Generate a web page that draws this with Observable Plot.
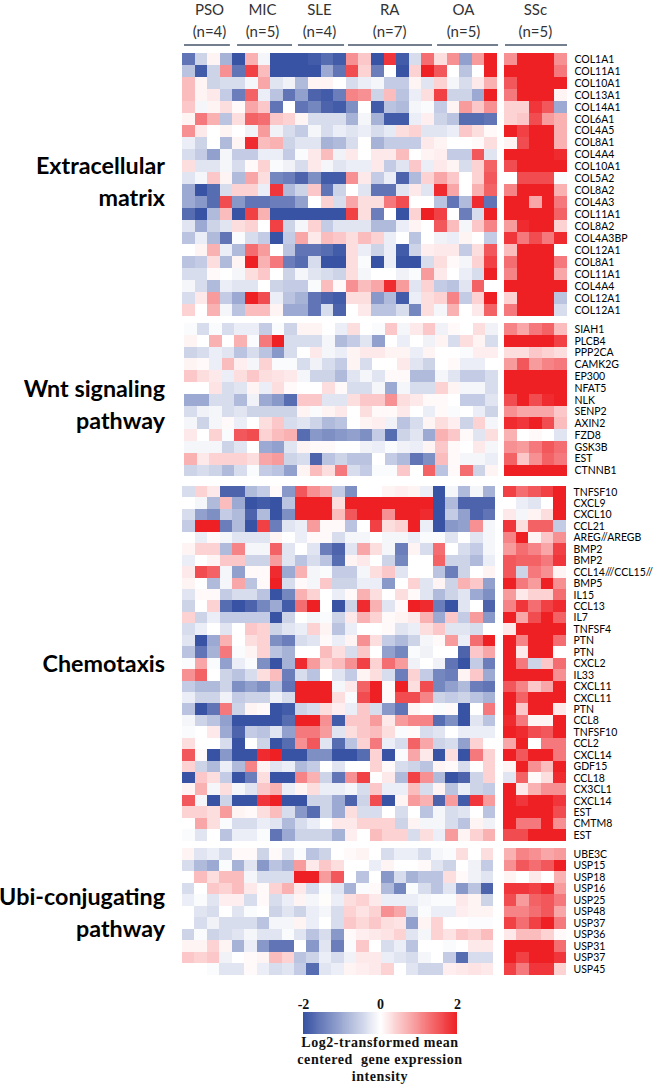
<!DOCTYPE html>
<html>
<head>
<meta charset="utf-8">
<script src="https://cdn.jsdelivr.net/npm/d3@7"></script>
<script src="https://cdn.jsdelivr.net/npm/@observablehq/plot@0.6"></script>
<style>
html,body{margin:0;padding:0;background:#fff;}
#page{position:relative;width:662px;height:1086px;overflow:hidden;font-family:Lato,sans-serif;}
#page svg{position:absolute;background:transparent;}
.section{position:absolute;font-weight:700;font-size:23.3px;line-height:32px;color:#000;text-align:right;white-space:pre;}
#cap{position:absolute;left:280px;width:200px;top:1034px;text-align:center;font-family:"Liberation Serif",serif;font-weight:700;font-size:14px;line-height:17px;letter-spacing:.55px;color:#111;}
</style>
</head>
<body>
<div id="page"></div>
<script>
const groupNames = ["PSO\n(n=4)","MIC\n(n=5)","SLE\n(n=4)","RA\n(n=7)","OA\n(n=5)","SSc\n(n=5)"];
const groupCenter = [2.14,6.35,10.87,16.44,22.3,28.0];
const groupStart = [0.16,4.37,9.2,13.17,20.24,25.63];
const groupEnd = [3.8,8.73,12.86,19.84,25.08,30.55];

const ecmLabels = ["COL1A1","COL11A1","COL10A1","COL13A1","COL14A1","COL6A1","COL4A5","COL8A1","COL4A4","COL10A1","COL5A2","COL8A2","COL4A3","COL11A1","COL8A2","COL4A3BP","COL12A1","COL8A1","COL11A1","COL4A4","COL12A1","COL12A1"];
const ecmValues = [
[-1.6,-.5,.1,-.9,-2,.7,-.1,-2,-2,-2,-1.9,-1.7,-1.9,1,.5,-2,1.8,-1.9,-.4,1.3,.3,1,-1.1,.9,2, 1,2,2,2,1],
[-.7,-1.9,-.5,1,-1.6,1.7,.6,-2,-2,-2,-2,-1,-1.6,1.6,.4,-1.5,0,-2,.4,2,1.5,0,-.7,0,2, 2,2,2,2,1.2],
[.6,.1,-.5,-.4,-.4,-.1,.8,-.3,-.15,-.8,.1,.1,0,-.4,-.2,-.1,-.6,-.6,.1,-.3,.4,-.1,-.4,.2,.7, 1.5,2,2,2,2],
[.6,.1,.2,-.6,-1.5,1.4,-.2,-.7,-1.6,-1.1,-1.8,-1.9,-1.5,1.1,1,-.5,.6,-.7,-.2,.3,1.7,-.5,-.5,-1,2, 1.2,2,2,2,.1],
[.5,-.1,.1,.3,.05,.8,.5,-1.6,0,-1.6,-1.4,-1.8,-1.9,-1.3,0,-1.9,-.7,-.8,-.1,-.05,-.6,.1,.9,.5,1, .4,.4,1.8,1.5,-1],
[.1,1.2,.7,-.7,.3,1.4,1.3,.5,.4,.1,-.4,-.4,-.4,-.9,-.1,-.9,-1.9,-1.9,-.2,.15,-.5,-.7,-1.7,-1.7,-1.6, .4,.5,1.6,.9,.7],
[1,.2,0,.1,0,-.15,.9,-.15,-.4,-.6,-.1,-.4,-.2,-.3,-.2,-.4,-.25,.3,.4,-.3,-.3,-.2,.5,.3,.05, 2,1.7,2,2,.7],
[-.2,-.5,0,-.8,.1,1.9,.6,.7,-.5,-.3,-.3,-.9,-.8,-.4,0,-.9,-.6,-.6,-.6,.2,.1,0,0,.05,.3, .1,1.6,2,2,.7],
[-.4,-.6,-1.1,-.1,-.6,-.6,-.2,-.2,-.6,-.05,.2,.6,-.15,.2,0,.2,.2,.6,0,.1,.15,-.6,-.6,1.5,-.3, 2,2,2,2,1.9],
[.3,-.3,-.3,-.1,-.4,.05,.4,-.05,-.15,-.4,.2,-.1,-.3,-.2,-.2,.2,-.6,-.3,.5,-.2,.2,.1,-.4,.4,1.4, 1.6,2,2,2,2],
[-.3,-.1,.5,.1,-.8,.8,.3,-1.4,-1.5,-1.8,-1.3,-1.9,-1.9,1,.2,-.6,-.2,-1.8,-.8,.4,.8,.5,0,.4,1.5, 0,1.6,1.6,1.6,-.05],
[-1,-2,-1.7,-.4,.4,.4,-.2,1.8,-.8,-.5,.5,-1.6,-.5,0,-.3,-1.6,-1.6,-.3,.2,-.3,1.9,.8,0,.7,1.4, 1.1,2,2,2,.7],
[-1,-1.2,-1.7,1.6,-1.2,-1.6,-1.6,-1.5,-1.5,-1.1,0,.4,-.4,.8,.3,.3,1.2,1.6,0,0,-.7,-1.6,-.8,1.9,-1.6, 2,2,.8,2,1.2],
[-1.7,-2,-.8,.6,-2,1.7,.7,-2,-2,-2,-2,-2,-2,1.7,.3,-1.5,0,-2,.4,2,1.7,0,-1.5,-.4,2, 2,2,2,2,1.4],
[-.3,-1,-.5,-.3,.3,.4,0,1.7,-.5,-.1,.4,-.6,-.3,-.3,-.3,-.8,-.8,-.2,.1,0,1.5,.6,-.1,.5,1.1, .9,1.9,2,2,.4],
[-.7,-.2,-.8,-1.6,-.05,-.4,-.6,-2,-.6,.8,.2,.6,.5,.3,.6,.4,-.2,0,-.7,0,-.15,-.2,.1,0,-.6, 1.8,1.2,1.6,1.2,1.9],
[0,.1,.7,-.2,-.8,1.3,.9,0,-.7,-1.6,-1.6,-1.7,-1.9,.3,-.2,-.5,-.2,-1.9,-.5,.15,.2,.2,-.6,.3,1.5, .6,2,2,2,0],
[-.7,-.6,.3,-.8,.1,2,.7,1.2,-1.5,-1.7,-.4,-2,-2,.3,-.05,-2,-.2,-2,-2,-.4,.3,.05,-.1,.4,1.7, 1.3,2,2,2,1.2],
[-.4,-.4,.05,0,-.1,.3,.5,0,-.5,-.1,-.3,-.4,-.5,.3,-.1,0,0,-.15,-.05,.9,.2,0,-.2,-.4,2, 1.1,2,2,2,.8],
[-.1,-.4,-.8,-.2,-.3,-.3,0,-.5,-.6,-.6,-.05,.6,.05,1,.6,.8,1.9,.9,-.3,.4,-.6,-.7,-.3,1.4,0, 2,2,2,2,2],
[-.4,.2,.9,-.6,-1,2,1.6,-.2,-.7,-.9,-1.6,-1.8,-1.9,.3,.3,-1.2,-.8,-1.9,-.2,.3,.4,1.1,-.6,.4,2, .4,2,2,2,-.7],
[.4,0,.7,-.1,-.7,.6,.6,.1,-1,-1,-1.6,-.4,-1.8,0,.2,-.7,-.7,-.4,-1.4,.3,-.1,.7,0,.2,1.4, 1.2,2,2,2,-.4]
];

const wntLabels = ["SIAH1","PLCB4","PPP2CA","CAMK2G","EP300","NFAT5","NLK","SENP2","AXIN2","FZD8","GSK3B","EST","CTNNB1"];
const wntValues = [
[-.05,-.4,-.05,-.4,-.2,-.2,-.6,-.05,-.5,.1,.1,0,-.2,.3,0,-.05,.5,-.1,.2,.5,-.15,.05,0,.3,-.15, 1.1,.8,1.2,1.4,.6],
[.1,0,.7,0,.7,-.05,1.2,2,-.4,-.4,-.4,-.1,-.8,-.6,-.3,-1.1,0,-.2,0,-.15,.1,-.4,.3,.1,-.4, 2,2,2,2,1.7],
[-.5,-.4,-.2,-.3,-.7,-.4,-.7,-1.2,-.4,0,.2,-.1,-.2,.1,.2,.2,.1,.1,-.2,.1,0,0,-.05,.15,.15, .3,.3,.5,.4,.3],
[.1,.05,-.2,.6,.15,-.1,.4,-.05,-.05,-.4,-.15,-.4,-.6,.1,-.4,0,0,.2,-.3,-.5,0,.05,-.2,-.2,0, .9,1.5,.9,1.1,1.2],
[.5,.3,.2,-.2,.3,.5,.3,.25,.2,-.1,-.5,-.5,-.8,-.3,-.1,-.3,.05,.05,-.8,-.8,-.1,-.3,-.6,-.6,-.4, 2,2,2,2,2],
[0,0,.25,-.4,-.3,.1,-.2,.3,.05,0,0,.3,.05,-.4,-.4,-.1,-1,-.1,-.4,-.4,.4,.1,-.1,-.1,-.4, 2,2,2,2,2],
[-1,-1,-.4,-.4,-.8,-.15,-1,-1.2,-1.7,.5,.5,-.3,-.3,.3,.5,.5,1,.3,.2,.05,.05,0,-.6,-.6,-.3, 1.6,2,1.6,1.9,2],
[-.4,-.15,-.1,-.4,-.3,-.5,-.5,-.5,-.5,.1,-.05,.1,.2,0,.3,.05,.05,.2,0,-.2,.05,-.05,0,-.2,-.5, 1,.8,.8,.8,.5],
[-.1,-.5,-.1,.05,-.2,0,.3,.5,-.4,-.3,-.5,-.8,-.7,0,.1,.15,-.15,-.7,-.4,.1,.3,.15,-.5,.4,-.1, 1.9,1.8,2,1.6,.6],
[.2,0,.4,-.05,1.5,1.6,.4,.6,.7,-1.7,-1.2,-1.3,-1.2,-1.1,-1.3,-.6,-1.7,-.5,-.3,-1,.7,.5,.05,-.3,.3, .7,0,.05,0,-.3],
[-.1,-.1,-.1,-.5,-.3,0,-1,-1.1,-.3,.1,.05,.05,0,0,-.15,-.2,-.05,-.15,-.2,.1,.5,.05,0,.2,-.1, 1,.9,1.2,1.5,1.3],
[.7,.2,.4,.4,.4,.3,.8,.9,-.5,-.4,-1.8,-.7,-.5,-.7,-.7,0,-.6,-.8,-1.6,-1.3,.6,.05,-.1,-.1,-.2, 1.4,.5,1,1.4,1.2],
[-.5,-.4,-.5,-.8,-.4,-.05,-.6,-.7,-1.1,.1,.6,.3,1.2,-.4,-.6,-.05,-.05,.5,0,1.4,-.7,.05,1.3,-.5,.1, 2,2,2,2,2]
];

const chemoLabels = ["TNFSF10","CXCL9","CXCL10","CCL21","AREG//AREGB","BMP2","BMP2","CCL14///CCL15//","BMP5","IL15","CCL13","IL7","TNFSF4","PTN","PTN","CXCL2","IL33","CXCL11","CXCL11","PTN","CCL8","TNFSF10","CCL2","CXCL14","GDF15","CCL18","CX3CL1","CXCL14","EST","CMTM8","EST"];
const chemoValues = [
[-.4,.4,.2,-1.8,-1.8,-.8,-.6,.05,-1.2,1.5,1,.8,-.6,-1.3,0,0,.1,.15,.1,-.2,-2,-.1,-.8,-.1,-.9, 1.7,1.3,1.5,1.7,2],
[0,-.1,-.8,.6,-1,-2,-1.9,-2,-.7,2,2,2,.3,2,2,2,2,2,2,2,-2,-.8,-1.8,-1.8,-1.8, 0,-.2,-.3,0,2],
[-.4,-1.1,-1.3,-.6,-.8,-1.8,-.8,-2,-1.3,2,2,2,.6,1.5,2,2,1,2,2,1.9,-2,-.6,-1.1,-1.8,-1.6, .2,-.1,.1,.3,2],
[-.6,2,2,-1.5,-.8,-2,1.7,-1.5,-.3,-.2,.9,.05,.05,-.7,0,1.7,.3,.4,2,-.2,-2,-1.2,-1.1,1,-.1, 1.8,.3,1.4,1.4,-.6],
[0,-.2,.05,-.1,-.3,-.3,-.3,.1,0,-.2,.05,.05,-.4,-.1,-.1,0,-.1,-.1,-.2,-.05,-.05,-.3,0,-.3,-.1, 1.1,2,.1,.5,1],
[.1,.4,.4,-.8,1.1,-.1,-.1,1.4,-.3,0,-.3,-1.5,-1.8,-.3,.8,.3,-.1,-1.5,.1,-.4,1.3,0,-.4,-.6,-.1, .9,1.3,1.1,.8,1.7],
[-.2,0,.1,.5,.5,-.5,-.5,.9,-.3,-.7,-.4,-.7,-1.7,.1,.2,0,-.5,-1.4,0,0,1.4,-.5,-.5,-.8,-.2, 1.5,1.4,1.4,1.2,1.8],
[.2,1.6,1.4,-.1,-1.1,.05,.05,1.9,-1,.7,-.1,-.05,-.6,-.6,-.1,.3,.5,-.3,0,0,-.7,-1.5,-.5,0,.1, 1.5,-.5,1.2,1,.1],
[.1,0,-.8,-.1,.8,-.7,.05,2,-.4,.05,-.1,.5,-.5,-.5,-.2,-.2,-1.2,0,.4,-.3,.1,-.5,.7,.5,-1.1, 2,1.2,.9,2,1],
[-.3,.05,.05,-.6,-.4,-.4,-.7,-2,-1.4,.7,.4,0,-.2,.05,.7,.3,0,.3,.05,-.3,-.8,-.5,-.3,-1,-1.3, .9,.2,.4,.4,1.3],
[-.5,0,.4,-1.7,-2,-1.8,-1.4,-1,-1.9,1.3,2,0,-2,-.5,1.9,.7,-.3,.05,2,1.9,-1.5,-2,-.3,0,-1.8, 1.1,1.8,1.3,1.7,1.9],
[.4,-.5,-.2,-.6,-.6,-.6,-.6,-2,-.5,0,-.1,-.05,-.5,.2,.7,.4,.05,.1,.2,.7,-1,.5,-.6,.9,-1.2, 2,.8,1.6,2,1.4],
[-.4,-.2,0,-.3,0,.5,.4,-.5,-.3,-.2,.4,.1,-.7,-.2,0,0,.05,-.3,-.2,.3,.5,-.3,-.3,-.4,0, .2,2,2,2,2],
[-.3,-2,-1,.7,0,.3,.4,-1.3,-1.5,-.4,-.3,.05,-.2,.1,1,.3,-.6,-.8,-.5,-.1,.05,.9,-.2,1.3,2, 2,1.1,2,2,1.3],
[-.7,-1.6,-.9,1.2,-.05,.1,.4,-.7,-.9,0,0,.6,.3,-.4,.5,0,-1.1,-1.4,-.05,-.15,0,0,-1.8,.5,.8, 2,.2,2,2,0],
[-.05,.8,-.05,-1.1,-.2,-.05,-1.3,-2,-.9,1.9,.9,.4,.6,1,1.7,.4,1.3,.9,-.15,0,-.15,-1.6,-2,-.6,-1.5, 2,1.2,-.5,.5,1.3],
[1,1.4,0,-.5,-.7,-.4,.3,.6,-1.5,-.4,-.7,0,-.3,-.6,.1,.3,-.4,-1.5,.4,-.6,-1.4,-1.5,.1,.5,-1, 2,2,2,2,1],
[-.6,-.8,-.8,-.5,-1.3,-1.1,-1.3,-.7,-1.6,2,2,2,-.1,.2,1.4,2,.05,2,.3,1.6,-1.4,-1.1,-.8,-1.5,-1.6, 1.5,1.1,.5,.8,2],
[-.2,-.5,-.5,-.15,-.6,-.5,-.5,-.15,-.4,2,2,2,.3,-.05,1.6,2,.05,1.6,1.6,1.1,-.5,-.6,-.5,-.7,-.9, 2,1.4,2,2,2],
[-.7,-2,-1.6,1.2,-.5,.1,.05,-2,-1.9,-.5,-.4,.3,.15,-.2,.5,-.4,-1.2,-1.6,.1,0,-.05,.05,-2,0,1.2, 2,.5,2,2,.2],
[-.1,-.5,-.7,-1.1,-2,-2,-2,-2,-1.7,2,2,1,-1.9,.5,.5,.9,.2,.9,1.1,1.1,-1.7,-1.3,-2,-.3,-.7, 1.9,1.2,.1,.1,2],
[-.05,0,.2,-1,-1.8,-.6,-.7,-.3,-1.1,1.2,1.2,.9,-.3,.3,.5,.6,.3,-.05,.05,-.4,-.3,0,-.2,-.2,-.2, 2,1.9,1.6,1.5,2],
[.3,0,0,-.4,-2,0,-.5,-2,-1.7,1,1.5,-.3,-1.7,-.7,.4,1.2,-.2,-.4,1.4,.8,-.5,-.4,-1.1,.4,0, .8,2,0,1.2,1.2],
[1.5,.05,-2,-1.2,-2,-2,1.9,2,-2,-2,-1.3,-1.3,-2,-2,-1.7,.4,-2,-.05,.8,.2,-2,.3,-2,1.2,.4, 2,1.5,2,2,1.2],
[.4,-.5,-.8,-.2,-.8,1.1,.1,-.3,-.2,-.8,-.6,0,-.3,0,0,.4,.05,-.4,-.5,-.7,.1,.05,-.4,0,.4, .1,2,1,.6,2],
[-2,.5,.3,-.6,-2,-1.5,.3,-2,-2,1.1,.7,-.5,-1.6,1,1.7,0,.2,-.8,1.7,1,-.8,-2,-1.8,-.5,.4, -.3,1.4,.05,.3,1.9],
[.1,.7,-.1,.3,-.1,-.3,.5,.7,-.2,.1,.3,-.2,-.2,-.1,-.4,.5,-.2,-.2,.6,-.4,.1,-.7,-.2,-.5,-.6, 2,.2,.7,1,1],
[1.5,-.1,-2,-.5,-2,-2,1.8,2,-2,-2,-.5,-.5,-1,-1.8,-.5,1.6,-2,.1,.9,.7,-1.8,.9,-1.9,1.8,.9, 2,1.8,2,2,1.8],
[.4,.4,.3,.9,.1,.05,.3,.6,-.4,-1.2,-1.7,-.5,-1,.3,-.4,-.4,0,-.4,0,-.7,-.1,-.4,-.3,0,-.7, 2,2,2,2,1.6],
[0,.8,.3,-.05,-.4,-.4,-.2,-.3,-.8,-.4,-.2,0,.2,.2,.4,.4,.4,-.5,.1,-.1,-.1,-.4,-.7,.1,-.15, 2,1.2,1.2,2,1],
[-.05,-.3,0,-.7,-.2,-.2,-.05,-1.6,-1,-.5,-.5,-.5,-.9,.15,0,.6,.4,.4,-.4,.3,-.2,.9,.1,.4,.7, 1.6,1.6,2,2,2]
];

const ubiLabels = ["UBE3C","USP15","USP18","USP16","USP25","USP48","USP37","USP36","USP31","USP37","USP45"];
const ubiValues = [
[.1,-.3,-.2,-.4,.05,.05,-.5,.05,-.3,-.05,-.7,-.5,0,.05,.1,0,-.4,-.2,-.2,-.4,-.1,-.05,.3,0,.3, .7,1.1,1,.8,.9],
[-.4,-.8,-1,-.05,-.9,-.3,-1.2,-.7,-.9,.9,.2,.5,.3,0,0,-.2,.1,0,0,.05,-.3,-.5,0,-.15,-.6, 1,1.5,1.3,1.5,2],
[0,.6,.3,.6,.6,-.1,-.4,-.4,-.4,2,2,.9,1.5,0,-.7,0,-1.2,-.4,-.9,-.7,-.7,.3,.05,-.15,-.3, .1,0,.2,0,.7],
[-.4,0,.5,.4,.6,.2,.05,.4,.7,.2,-.4,-.05,-.3,-.9,-.05,.05,-.8,-1.4,-.05,-.4,-.7,-.3,-1.2,-.7,-1.8, 1.8,1.8,1.7,1.9,.9],
[-.2,-.05,-.3,.15,.15,-.4,.05,-.4,-.2,.1,-.1,.03,-.2,.3,.4,.2,-.2,-.2,-.2,-.1,-.05,-.05,.2,.1,-.5, 1.6,.9,1.4,1.5,1.2],
[0,-.3,-.4,0,-.3,-.05,0,-.5,-.3,-.5,-.2,-.1,-.4,.4,.25,.4,1,.8,-.4,-.05,-.2,-.2,.15,.1,.1, 1.1,1.1,1.3,1.5,.8],
[0,-.4,-.15,-.4,-.4,-.4,-.7,-.1,-.1,.1,-.2,0,-.4,.5,.35,.5,.3,.25,-1.1,.1,.4,0,0,-.03,-.03, 1.7,1.3,1.7,2,1.2],
[-.5,-.05,-.5,-.4,-.3,-.1,-.3,-.3,-.05,-.3,-.7,-.4,-1.2,.05,.15,.2,.25,.4,-.3,-.1,.4,.25,.5,.4,.6, .2,.6,.6,.4,.05],
[.1,.1,.4,.1,-.9,-.2,-1.2,-1.6,-1.6,0,-1.2,-.3,-1.5,-.05,.5,0,-.4,-.2,-.7,0,0,-.05,0,.2,.2, 2,2,2,2,1.3],
[.5,.4,.5,-.15,0,.05,.1,.6,.4,-.7,-.5,-.2,-.4,-.15,.2,.2,-.2,-.3,-.4,-.1,0,-.6,-1.7,-.4,-.4, 2,1.7,2,2,1.8],
[0,0,-.05,-.3,-.3,.05,-.2,-.4,-.3,-.6,-1.7,-.3,-.2,.1,.15,.2,.4,0,-.3,-.5,-.5,.15,.2,.25,.2, 1.7,1.2,1.8,1.8,.4]
];

const legendTicks = [-2,0,2];
const colorDomain = [-2,0,2];
const colorRange = ["#3953a4","#ffffff","#ee2024"];

const page = document.getElementById("page");
const color = {type:"linear", domain:colorDomain, range:colorRange};
const LEFT_COLS = 25, TOTAL_COLS = 30;

function place(svg, top){ svg.style.top = top+"px"; svg.style.left = "0px"; page.appendChild(svg); }

function panel(labels, values, {top, bottom, left, right, gap}){
  const cells = values.flatMap((row,r)=>row.map((v,c)=>({r, v, c: c<LEFT_COLS ? c : c+gap})));
  const svg = Plot.plot({
    width:662, height:bottom-top, marginTop:0, marginBottom:0, marginLeft:left, marginRight:662-right,
    style:{background:"transparent"},
    color,
    x:{type:"linear", domain:[0,TOTAL_COLS+gap], axis:null},
    y:{type:"band", domain:d3.range(labels.length), padding:0, round:false, axis:null},
    marks:[
      Plot.barX(cells,{x1:"c", x2:d=>d.c+1, y:"r", fill:"v", shapeRendering:"crispEdges"}),
      Plot.axisY({anchor:"right", tickSize:0, tickPadding:7, label:null, tickFormat:i=>labels[i],
        fontSize:10.5, fontFamily:"Lato,sans-serif", fill:"#000"})
    ]
  });
  place(svg, top);
}

// group header
const groups = groupNames.map((name,i)=>({name, center:groupCenter[i], start:groupStart[i], end:groupEnd[i]}));
place(Plot.plot({
  width:662, height:50, marginTop:0, marginBottom:0, marginLeft:182, marginRight:95,
  style:{background:"transparent"},
  x:{type:"linear", domain:[0,30.55], axis:null},
  y:{type:"linear", domain:[0,50], range:[0,50], axis:null},
  marks:[
    Plot.text(groups,{x:"center", text:"name", frameAnchor:"top", dy:-1, fontSize:15, lineHeight:1.45, lineAnchor:"top", fontFamily:"Lato,sans-serif", fill:"#333"}),
    Plot.ruleY(groups,{x1:"start", x2:"end", y:()=>44.5, stroke:"#44546a", strokeWidth:1.5})
  ]
}),0);

panel(ecmLabels, ecmValues, {top:53.3, bottom:316, left:182, right:567, gap:.55});
panel(wntLabels, wntValues, {top:323, bottom:476.3, left:184, right:567, gap:.5});
panel(chemoLabels, chemoValues, {top:486, bottom:840.7, left:182, right:566, gap:.65});
panel(ubiLabels, ubiValues, {top:848, bottom:974.7, left:182, right:566, gap:.85});

// legend
const steps = d3.range(-2,2,0.025);
place(Plot.plot({
  width:662, height:44, marginTop:22, marginBottom:0, marginLeft:303, marginRight:205,
  style:{background:"transparent"},
  color,
  x:{type:"linear", domain:[-2,2], axis:null},
  marks:[
    Plot.barX(steps,{x1:d=>d, x2:d=>d+0.025, fill:d=>d, shapeRendering:"crispEdges"}),
    Plot.axisX({anchor:"top", ticks:legendTicks, tickSize:0, tickPadding:4, label:null, tickFormat:d=>String(d),
      fontSize:14, fontWeight:700, fontFamily:"'Liberation Serif',serif", fill:"#111"})
  ]
}),990);

// section labels
[["Extracellular\nmatrix",149,165],["Wnt signaling\npathway",372,165],["Chemotaxis",647,165],["Ubi-conjugating\npathway",880,165]].forEach(([t,top,right])=>{
  const d=document.createElement("div"); d.className="section"; d.textContent=t;
  d.style.top=top+"px"; d.style.right=(662-right)+"px"; page.appendChild(d);
});
const cap=document.createElement("div"); cap.id="cap";
cap.innerHTML="Log2-transformed mean<br>centered&nbsp; gene expression<br>intensity";
page.appendChild(cap);
</script>
</body>
</html>
